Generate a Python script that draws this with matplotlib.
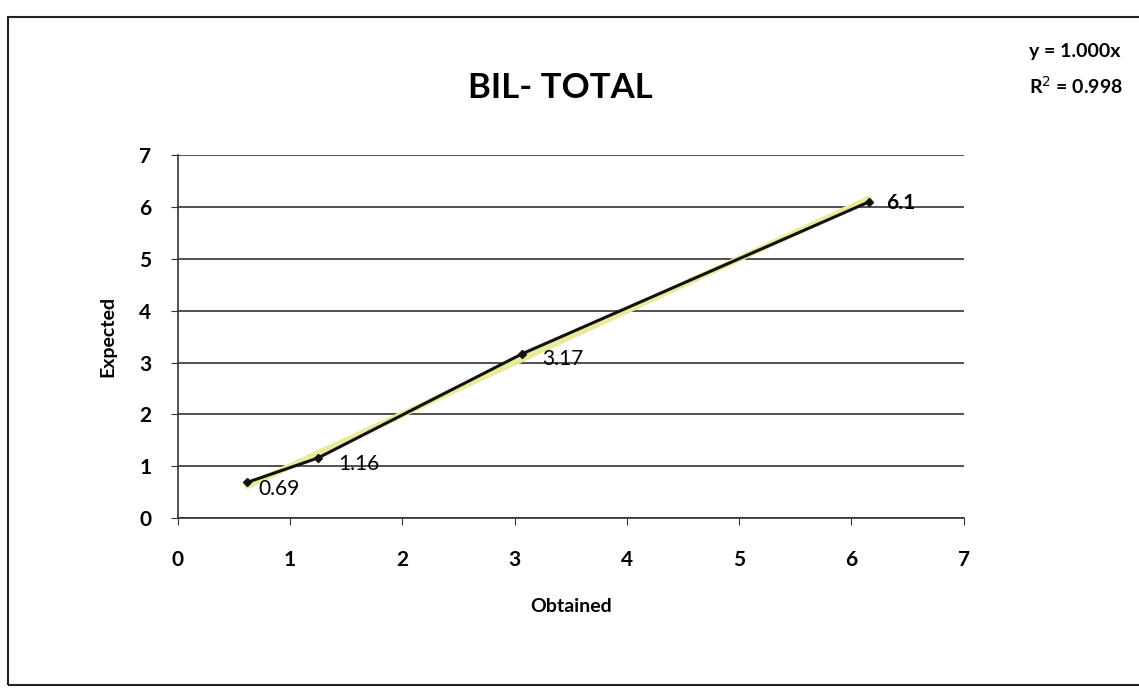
import numpy as np
import matplotlib.pyplot as plt
from matplotlib.patches import Rectangle

obtained = [0.62, 1.25, 3.07, 6.16]
expected = [0.69, 1.16, 3.17, 6.1]
labels = ['0.69', '1.16', '3.17', '6.1']
ticks = [0, 1, 2, 3, 4, 5, 6, 7]

plt.rcParams['font.family'] = ['Lato', 'DejaVu Sans']

fig = plt.figure(figsize=(11.39, 6.89), dpi=100)
fig.patch.set_facecolor('white')
fig.add_artist(Rectangle((0.007, 0.006), 0.995, 0.97, transform=fig.transFigure,
                         fill=False, edgecolor='#222222', lw=1.5))

ax = fig.add_axes([0.156, 0.248, 0.69, 0.527])
ax.set_xlim(0, 7)
ax.set_ylim(0, 7)
ax.set_xticks(ticks)
ax.set_yticks(ticks)
ax.grid(axis='y', color='#333333', lw=1.2)
ax.set_axisbelow(True)
for s in ['top', 'right']:
    ax.spines[s].set_visible(False)
for s in ['left', 'bottom']:
    ax.spines[s].set_color('#333333')
    ax.spines[s].set_linewidth(1.2)
ax.tick_params(length=5, color='#333333', labelsize=15)
ax.tick_params(axis='x', pad=18)
ax.tick_params(axis='y', pad=14)
for t in ax.get_xticklabels() + ax.get_yticklabels():
    t.set_fontweight('bold')

# trendline (highlighted) and series
xs = np.array([obtained[0], obtained[-1]])
ax.plot(xs, xs, color='#eaea9c', lw=4.5, solid_capstyle='round', zorder=2)
ax.plot(obtained, expected, color='#111111', lw=2.2, marker='D', ms=4, zorder=3)
offsets = [(0.1, -0.12), (0.18, -0.12), (0.18, -0.1), (0.15, -0.02)]
weights = ['normal', 'normal', 'normal', 'bold']
for x, y, lab, (dx, dy), w in zip(obtained, expected, labels, offsets, weights):
    ax.text(x + dx, y + dy, lab, fontsize=15, fontweight=w, va='center', ha='left', zorder=4)

ax.set_xlabel('Obtained', fontsize=14, fontweight='bold', labelpad=20)
ax.set_ylabel('Expected', fontsize=14, fontweight='bold', labelpad=16)

fig.text(0.492, 0.872, 'BIL- TOTAL', fontsize=25, fontweight='bold', ha='center', va='center')
fig.text(0.903, 0.925, 'y = 1.000x', fontsize=14, fontweight='bold', ha='left', va='center')
fig.text(0.903, 0.876, 'R$^{2}$ = 0.998', fontsize=14, fontweight='bold', ha='left', va='center')

plt.savefig('out.png', dpi=100)
